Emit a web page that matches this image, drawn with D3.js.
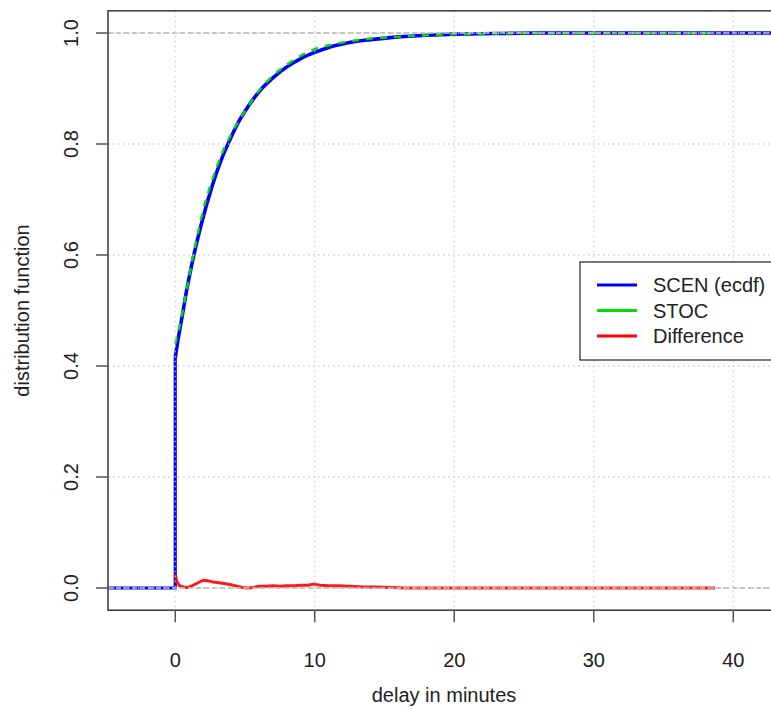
<!DOCTYPE html>
<html><head><meta charset="utf-8">
<script src="https://cdn.jsdelivr.net/npm/d3@7"></script>
<style>body{margin:0;background:#fff}</style></head>
<body><svg id="c" width="771" height="709"></svg>
<script>
// ---- data ----
const xTicks = [0, 10, 20, 30, 40];
const yTicks = [0, 0.2, 0.4, 0.6, 0.8, 1.0];
const yTickLabels = ["0.0", "0.2", "0.4", "0.6", "0.8", "1.0"];
const seriesNames = ["SCEN (ecdf)", "STOC", "Difference"];
const seriesColors = ["#0000ff", "#00e000", "#ff0000"];

// SCEN empirical distribution function (before the jump it is 0)
const scenPreX = [-10, 0, 0];
const scenPreY = [0, 0, 0.415];
const scenX = [0, 0.25, 0.5, 0.75, 1, 1.5, 2, 2.5, 3, 3.5, 4, 4.5, 5, 6, 7, 8, 9, 10, 11, 12, 13, 14, 16, 18, 20, 23, 26, 30, 35, 40, 45];
const scenY = [0.415, 0.455, 0.49, 0.527, 0.56, 0.618, 0.668, 0.712, 0.751, 0.784, 0.812, 0.838, 0.859, 0.894, 0.919, 0.939, 0.954, 0.965, 0.974, 0.980, 0.985, 0.988, 0.993, 0.996, 0.998, 0.999, 1.0, 1.0, 1.0, 1.0, 1.0];

// STOC distribution function
const stocX = [0, 0.25, 0.5, 0.75, 1, 1.5, 2, 2.5, 3, 3.5, 4, 4.5, 5, 6, 7, 8, 9, 10, 11, 12, 13, 14, 16, 18, 20, 23, 26, 30, 35, 38.3];
const stocY = [0.44, 0.465, 0.494, 0.529, 0.562, 0.625, 0.681, 0.724, 0.76, 0.792, 0.817, 0.84, 0.859, 0.896, 0.923, 0.943, 0.959, 0.971, 0.978, 0.983, 0.987, 0.99, 0.993, 0.996, 0.998, 0.999, 1.0, 1.0, 1.0, 1.0];

// Difference
const diffX = [0, 0.1, 0.3, 0.6, 0.9, 1.2, 1.6, 2.0, 2.3, 2.7, 3.0, 3.5, 4.0, 4.5, 4.8, 5.2, 5.6, 6.0, 6.5, 7.0, 7.5, 8.0, 8.5, 9.0, 9.5, 9.9, 10.4, 11, 11.7, 12.5, 13.5, 14.5, 15.5, 16.5, 18, 20, 25, 30, 35, 38.7];
const diffY = [0.025, 0.012, 0.004, 0.002, 0.001, 0.004, 0.009, 0.014, 0.013, 0.011, 0.010, 0.008, 0.006, 0.003, 0.001, 0.000, 0.001, 0.003, 0.003, 0.004, 0.003, 0.004, 0.004, 0.005, 0.005, 0.007, 0.005, 0.004, 0.004, 0.003, 0.002, 0.002, 0.001, 0.000, 0.000, 0.000, 0.000, 0.000, 0.000, 0.000];

// ---- drawing ----
const svg = d3.select("#c");
svg.append("rect").attr("width", 771).attr("height", 709).attr("fill", "#fff");
const L = 108, R = 780, T = 10.8, B = 610.2;
const x = d3.scaleLinear().domain([-4.82, 43.35]).range([L, R]);
const y = d3.scaleLinear().domain([-0.04, 1.04]).range([B, T]);
const font = "'Liberation Sans', Arial, sans-serif";
const fs = 20;

svg.append("defs").append("clipPath").attr("id", "clip")
  .append("rect").attr("x", L).attr("y", T).attr("width", R - L).attr("height", B - T);
const plot = svg.append("g").attr("clip-path", "url(#clip)");

const zip = (xs, ys) => xs.map((v, i) => [v, ys[i]]);
const lineLin = d3.line().x(d => x(d[0])).y(d => y(d[1]));
const lineSm = d3.line().x(d => x(d[0])).y(d => y(d[1])).curve(d3.curveMonotoneX);

// blue SCEN
plot.append("path").attr("d", lineLin(zip(scenPreX, scenPreY)))
  .attr("fill", "none").attr("stroke", seriesColors[0]).attr("stroke-width", 3.2);
plot.append("path").attr("d", lineSm(zip(scenX, scenY)))
  .attr("fill", "none").attr("stroke", seriesColors[0]).attr("stroke-width", 3.6);
// green STOC dashed
plot.append("path").attr("d", lineSm(zip(stocX, stocY)))
  .attr("fill", "none").attr("stroke", seriesColors[1]).attr("stroke-width", 2.4)
  .attr("stroke-dasharray", "7,7");
// red Difference
plot.append("path").attr("d", lineLin(zip(diffX, diffY)))
  .attr("fill", "none").attr("stroke", seriesColors[2]).attr("stroke-width", 3)
  .attr("stroke-linejoin", "round").attr("opacity", 0.9);

// grid (dotted) on top
xTicks.forEach(t => plot.append("line").attr("x1", x(t)).attr("x2", x(t)).attr("y1", T).attr("y2", B)
  .attr("stroke", "#c8c8c8").attr("stroke-width", 1.3).attr("stroke-dasharray", "1.5,3.5").attr("opacity", 0.85));
yTicks.forEach(t => plot.append("line").attr("x1", L).attr("x2", R).attr("y1", y(t)).attr("y2", y(t))
  .attr("stroke", "#c8c8c8").attr("stroke-width", 1.3).attr("stroke-dasharray", "1.5,3.5").attr("opacity", 0.85));
// dashed reference lines at 0 and 1
[0, 1].forEach(h => plot.append("line").attr("x1", L).attr("x2", R).attr("y1", y(h)).attr("y2", y(h))
  .attr("stroke", "#bbbbbb").attr("stroke-width", 2).attr("stroke-dasharray", "5,3").attr("opacity", 0.8));

// box
svg.append("rect").attr("x", L).attr("y", T).attr("width", R - L).attr("height", B - T)
  .attr("fill", "none").attr("stroke", "#444").attr("stroke-width", 1.6);

// y axis
const yAxis = svg.append("g");
yTicks.forEach((t, i) => {
  yAxis.append("line").attr("x1", L - 12).attr("x2", L).attr("y1", y(t)).attr("y2", y(t))
    .attr("stroke", "#555").attr("stroke-width", 1.5);
  yAxis.append("text").attr("transform", `translate(78,${y(t)}) rotate(-90)`)
    .attr("text-anchor", "middle").attr("font-family", font).attr("font-size", fs)
    .attr("fill", "#222").text(yTickLabels[i]);
});
// x axis
const xAxis = svg.append("g");
xTicks.forEach(t => {
  xAxis.append("line").attr("x1", x(t)).attr("x2", x(t)).attr("y1", B).attr("y2", B + 12)
    .attr("stroke", "#555").attr("stroke-width", 1.5);
  xAxis.append("text").attr("x", x(t)).attr("y", 667).attr("text-anchor", "middle")
    .attr("font-family", font).attr("font-size", fs).attr("fill", "#222").text(t);
});
// titles
svg.append("text").attr("x", (L + R) / 2).attr("y", 702).attr("text-anchor", "middle")
  .attr("font-family", font).attr("font-size", fs).attr("fill", "#222").text("delay in minutes");
svg.append("text").attr("transform", `translate(29,${(T + B) / 2}) rotate(-90)`)
  .attr("text-anchor", "middle").attr("font-family", font).attr("font-size", fs)
  .attr("fill", "#222").text("distribution function");

// legend
const lg = svg.append("g");
lg.append("rect").attr("x", 580).attr("y", 262).attr("width", 220).attr("height", 98)
  .attr("fill", "#fff").attr("stroke", "#333").attr("stroke-width", 1.3);
seriesNames.forEach((n, i) => {
  const yy = 285 + i * 25.5;
  lg.append("line").attr("x1", 597).attr("x2", 637).attr("y1", yy).attr("y2", yy)
    .attr("stroke", seriesColors[i]).attr("stroke-width", 2.8);
  lg.append("text").attr("x", 653).attr("y", yy).attr("dy", "0.35em")
    .attr("font-family", font).attr("font-size", fs).attr("fill", "#222").text(n);
});
</script></body></html>
